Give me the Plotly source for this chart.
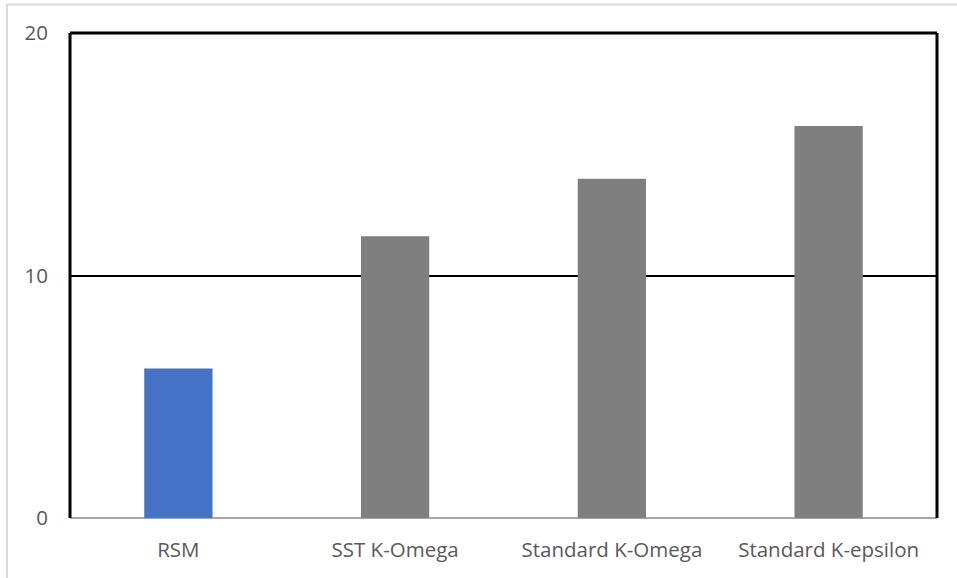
import plotly.graph_objects as go

# Turbulence model comparison
models = ["RSM", "SST K-Omega", "Standard K-Omega", "Standard K-epsilon"]
values = [6.16, 11.62, 13.99, 16.16]
colors = ["#4472c4", "#7f7f7f", "#7f7f7f", "#7f7f7f"]
y_ticks = [0, 10, 20]

fig = go.Figure(
    go.Bar(
        x=models,
        y=values,
        marker=dict(color=colors, line=dict(width=0)),
        width=0.315,
    )
)

label_font = dict(family="Open Sans, Noto Sans, sans-serif", size=20.5, color="#595959")

fig.update_layout(
    width=957,
    height=578,
    margin=dict(l=70, r=20, t=33, b=60),
    paper_bgcolor="white",
    plot_bgcolor="white",
    showlegend=False,
    bargap=0.685,
    xaxis=dict(
        showgrid=False,
        showline=False,
        ticks="",
        tickfont=label_font,
        ticklabelstandoff=17,
    ),
    yaxis=dict(
        range=[0, 20],
        tickvals=y_ticks,
        showgrid=True,
        gridcolor="black",
        gridwidth=2,
        zeroline=True,
        zerolinecolor="#a6a6a6",
        zerolinewidth=2,
        showline=False,
        ticks="",
        tickfont=label_font,
        ticklabelstandoff=21,
    ),
    shapes=[
        # outer chart border
        dict(type="rect", xref="paper", yref="paper",
             x0=-0.0727, x1=1.03, y0=-0.14, y1=1.0588,
             line=dict(color="#d9d9d9", width=2), layer="below"),
        # plot-area frame: left, top, right
        dict(type="line", xref="paper", yref="paper", x0=0, x1=0, y0=0, y1=1,
             line=dict(color="black", width=3)),
        dict(type="line", xref="paper", yref="paper", x0=0, x1=1, y0=1, y1=1,
             line=dict(color="black", width=3)),
        dict(type="line", xref="paper", yref="paper", x0=1, x1=1, y0=0, y1=1,
             line=dict(color="black", width=3)),
    ],
)

fig.write_html("out.html")
